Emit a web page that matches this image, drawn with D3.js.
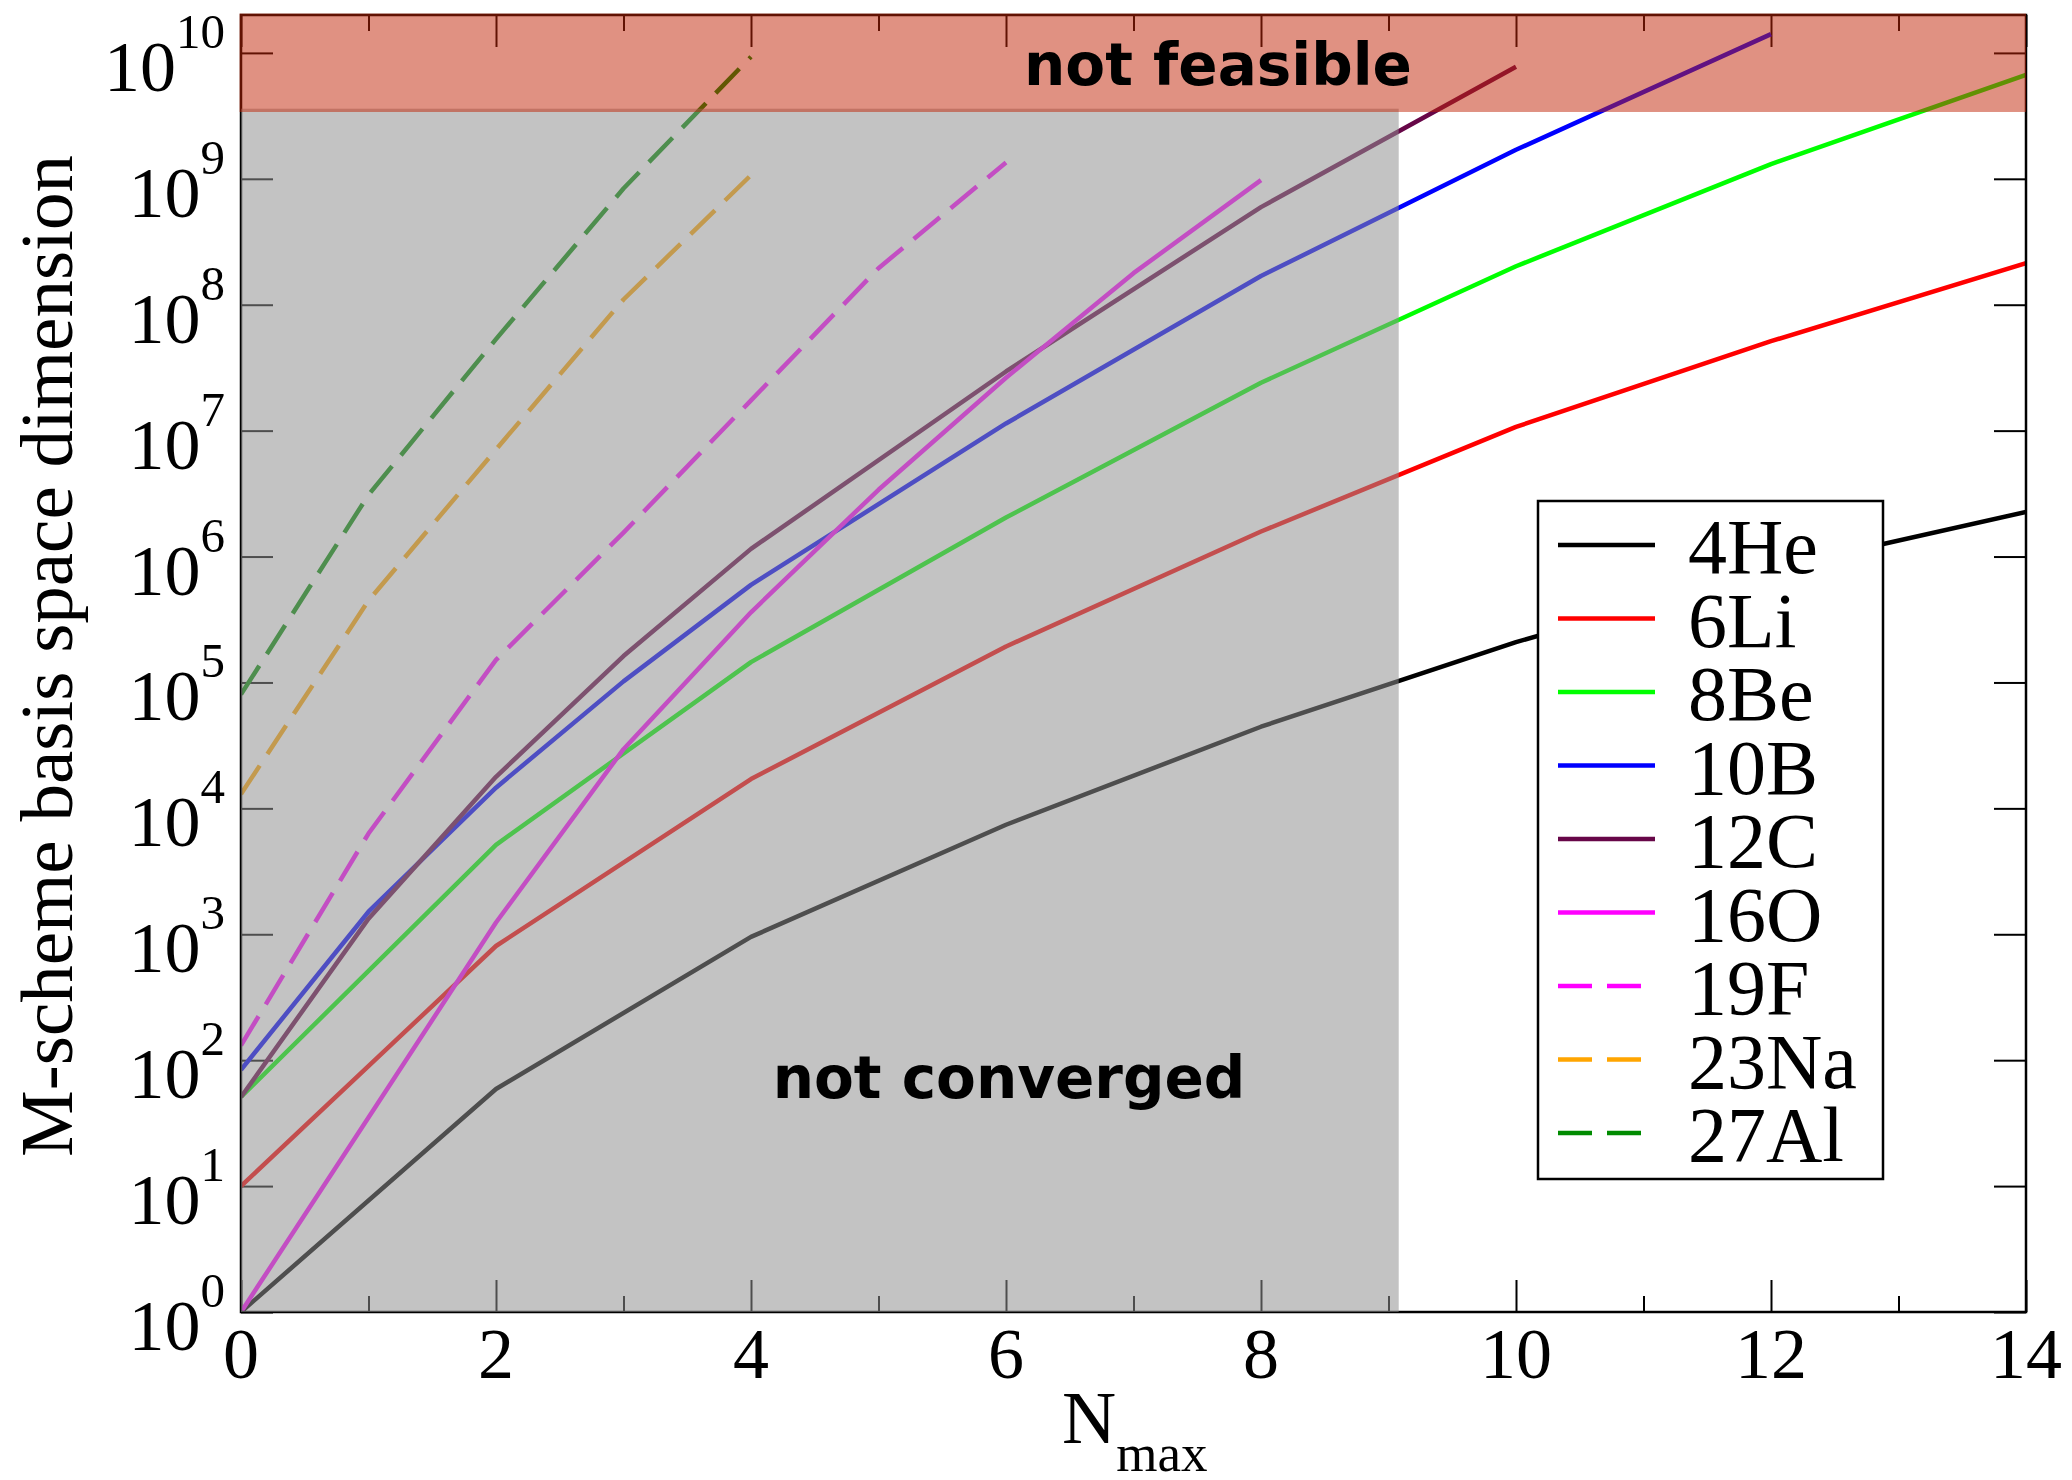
<!DOCTYPE html>
<html>
<head>
<meta charset="utf-8">
<script src="https://cdn.jsdelivr.net/npm/d3@7"></script>
<style>
  html, body { margin: 0; padding: 0; background: #fff; }
  svg { display: block; }
</style>
</head>
<body>
<svg id="chart" width="2072" height="1480"></svg>
<script>
// M-scheme basis dimension versus N_max for a set of p- and sd-shell nuclei
const nuclei = ["4He", "6Li", "8Be", "10B", "12C", "16O", "19F", "23Na", "27Al"];

const nmax4He  = [0, 2, 4, 6, 8, 10, 12, 14];
const dim4He   = [1, 59, 953, 7410, 44500, 209000, 794000, 2260000];

const nmax6Li  = [0, 2, 4, 6, 8, 10, 12, 14];
const dim6Li   = [10, 807, 17100, 193000, 1580000, 10700000, 51300000, 214000000];

const nmax8Be  = [0, 2, 4, 6, 8, 10, 12, 14];
const dim8Be   = [51, 5130, 145000, 2040000, 24000000, 202000000, 1310000000, 6680000000];

const nmax10B  = [0, 1, 2, 3, 4, 6, 8, 10, 12];
const dim10B   = [84, 1510, 14600, 102000, 596000, 11400000, 169000000, 1700000000, 14100000000];

const nmax12C  = [0, 1, 2, 3, 4, 6, 8, 10];
const dim12C   = [51, 1330, 17800, 162000, 1150000, 29500000, 596000000, 7760000000];

const nmax16O  = [0, 1, 2, 3, 4, 5, 6, 7, 8];
const dim16O   = [1, 35, 1240, 29500, 361000, 3390000, 26300000, 178000000, 977000000];

const nmax19F  = [0, 1, 2, 3, 4, 5, 6];
const dim19F   = [131, 6310, 151000, 1550000, 17400000, 195000000, 1350000000];

const nmax23Na = [0, 1, 2, 3, 4];
const dim23Na  = [13000, 447000, 7080000, 110000000, 1070000000];

const nmax27Al = [0, 1, 2, 3, 4];
const dim27Al  = [80400, 3090000, 53300000, 838000000, 9330000000];

const seriesColors = ["#000000", "#ff0000", "#00ff00", "#0000ff", "#670748", "#ff00ff", "#ff00ff", "#ffa500", "#008b00"];
const seriesDashed = [false, false, false, false, false, false, true, true, true];

const xMajorTicks = [0, 2, 4, 6, 8, 10, 12, 14];
const xMinorTicks = [1, 3, 5, 7, 9, 11, 13];
const yExponents  = [0, 1, 2, 3, 4, 5, 6, 7, 8, 9, 10];

const convergedLimit = 9.08;      // N_max beyond which results converge
const feasibleLimit  = 3.5e9;     // largest dimension that can be handled
const yMax = 2e10;

const regionLabels = ["not feasible", "not converged"];

// ---------------------------------------------------------------
const nmaxList = [nmax4He, nmax6Li, nmax8Be, nmax10B, nmax12C, nmax16O, nmax19F, nmax23Na, nmax27Al];
const dimList  = [dim4He, dim6Li, dim8Be, dim10B, dim12C, dim16O, dim19F, dim23Na, dim27Al];
const series = nuclei.map((name, i) => ({
  name,
  color: seriesColors[i],
  dashed: seriesDashed[i],
  points: nmaxList[i].map((n, j) => ({ n, d: dimList[i][j] }))
}));

const serif = "'Liberation Serif', 'Times New Roman', Times, serif";
const sans  = "'DejaVu Sans', Verdana, sans-serif";

const svg = d3.select("#chart");
const plotL = 241, plotR = 2026, plotT = 15, plotB = 1312;

const x = d3.scaleLinear().domain([0, 14]).range([plotL, plotR]);
const y = d3.scaleLog().domain([1, yMax]).range([plotB, plotT]);

svg.append("rect").attr("width", 2072).attr("height", 1480).attr("fill", "#fff");

svg.append("defs").append("clipPath").attr("id", "plotClip")
  .append("rect").attr("x", plotL).attr("y", plotT)
  .attr("width", plotR - plotL).attr("height", plotB - plotT);

// tick marks on all four sides, pointing inward
function styleAxis(g) {
  g.select(".domain").remove();
  g.selectAll(".tick line").attr("stroke", "#000").attr("stroke-width", 2);
  g.selectAll(".tick text").remove();
}
svg.append("g").attr("transform", `translate(0,${plotB})`)
  .call(d3.axisBottom(x).tickValues(xMajorTicks).tickSize(-32).tickFormat("")).call(styleAxis);
svg.append("g").attr("transform", `translate(0,${plotB})`)
  .call(d3.axisBottom(x).tickValues(xMinorTicks).tickSize(-16).tickFormat("")).call(styleAxis);
svg.append("g").attr("transform", `translate(0,${plotT})`)
  .call(d3.axisTop(x).tickValues(xMajorTicks).tickSize(-32).tickFormat("")).call(styleAxis);
svg.append("g").attr("transform", `translate(0,${plotT})`)
  .call(d3.axisTop(x).tickValues(xMinorTicks).tickSize(-16).tickFormat("")).call(styleAxis);
const decades = yExponents.map(e => Math.pow(10, e));
svg.append("g").attr("transform", `translate(${plotL},0)`)
  .call(d3.axisLeft(y).tickValues(decades).tickSize(-32).tickFormat("")).call(styleAxis);
svg.append("g").attr("transform", `translate(${plotR},0)`)
  .call(d3.axisRight(y).tickValues(decades).tickSize(-32).tickFormat("")).call(styleAxis);

// data lines
const line = d3.line().x(p => x(p.n)).y(p => y(p.d));
svg.append("g").attr("clip-path", "url(#plotClip)")
  .selectAll("path").data(series).join("path")
  .attr("d", s => line(s.points))
  .attr("fill", "none")
  .attr("stroke", s => s.color)
  .attr("stroke-width", 4.5)
  .attr("stroke-linejoin", "round")
  .attr("stroke-dasharray", s => s.dashed ? "34,14" : null);

// frame
svg.append("rect").attr("x", plotL).attr("y", plotT)
  .attr("width", plotR - plotL).attr("height", plotB - plotT)
  .attr("fill", "none").attr("stroke", "#000").attr("stroke-width", 2.5);

// shaded regions laid over lines and frame
svg.append("rect")
  .attr("x", x(0)).attr("y", y(feasibleLimit * 1.03))
  .attr("width", x(convergedLimit) - x(0))
  .attr("height", y(1) - y(feasibleLimit * 1.03))
  .attr("fill", "rgb(144,144,144)").attr("fill-opacity", 0.54);
svg.append("rect")
  .attr("x", x(0) - 1.5).attr("y", y(yMax) - 1.5)
  .attr("width", x(14) - x(0) + 1.5)
  .attr("height", y(feasibleLimit * 0.97) - y(yMax) + 1.5)
  .attr("fill", "rgb(193,35,5)").attr("fill-opacity", 0.5);

// region labels
svg.append("text").attr("x", 1218).attr("y", 85)
  .attr("text-anchor", "middle").attr("font-family", sans).attr("font-weight", "bold")
  .attr("font-size", 58).attr("fill", "#000").text(regionLabels[0]);
svg.append("text").attr("x", 1009).attr("y", 1098)
  .attr("text-anchor", "middle").attr("font-family", sans).attr("font-weight", "bold")
  .attr("font-size", 58).attr("fill", "#000").text(regionLabels[1]);

// x tick labels
svg.append("g").selectAll("text").data(xMajorTicks).join("text")
  .attr("x", d => x(d)).attr("y", 1378)
  .attr("text-anchor", "middle").attr("font-family", serif).attr("font-size", 72)
  .attr("fill", "#000").text(d => d);

// y tick labels as powers of ten
const yl = svg.append("g").selectAll("text").data(yExponents).join("text")
  .attr("x", 225).attr("y", e => y(Math.pow(10, e)) + 38)
  .attr("text-anchor", "end").attr("font-family", serif).attr("font-size", 72)
  .attr("fill", "#000");
yl.append("tspan").text("10");
yl.append("tspan").attr("dy", -43).attr("font-size", 49).text(e => e);

// axis titles
const xt = svg.append("text").attr("x", 1062).attr("y", 1443)
  .attr("font-family", serif).attr("font-size", 75).attr("fill", "#000");
xt.append("tspan").text("N");
xt.append("tspan").attr("dy", 28).attr("font-size", 53).text("max");

svg.append("text")
  .attr("transform", "translate(72,656) rotate(-90)")
  .attr("text-anchor", "middle").attr("font-family", serif).attr("font-size", 75)
  .attr("fill", "#000").text("M-scheme basis space dimension");

// legend
const lg = svg.append("g");
lg.append("rect").attr("x", 1538).attr("y", 501).attr("width", 345).attr("height", 678)
  .attr("fill", "#fff").attr("stroke", "#000").attr("stroke-width", 2.5);
const entries = lg.selectAll("g.entry").data(series).join("g").attr("class", "entry")
  .attr("transform", (s, i) => `translate(0,${545 + i * 73.5})`);
entries.append("line").attr("x1", 1558).attr("x2", 1655).attr("y1", 0).attr("y2", 0)
  .attr("stroke", s => s.color).attr("stroke-width", 4.5)
  .attr("stroke-dasharray", s => s.dashed ? "34,15" : null);
entries.append("text").attr("x", 1688).attr("y", 28)
  .attr("font-family", serif).attr("font-size", 78).attr("fill", "#000")
  .text(s => s.name);
</script>
</body>
</html>
